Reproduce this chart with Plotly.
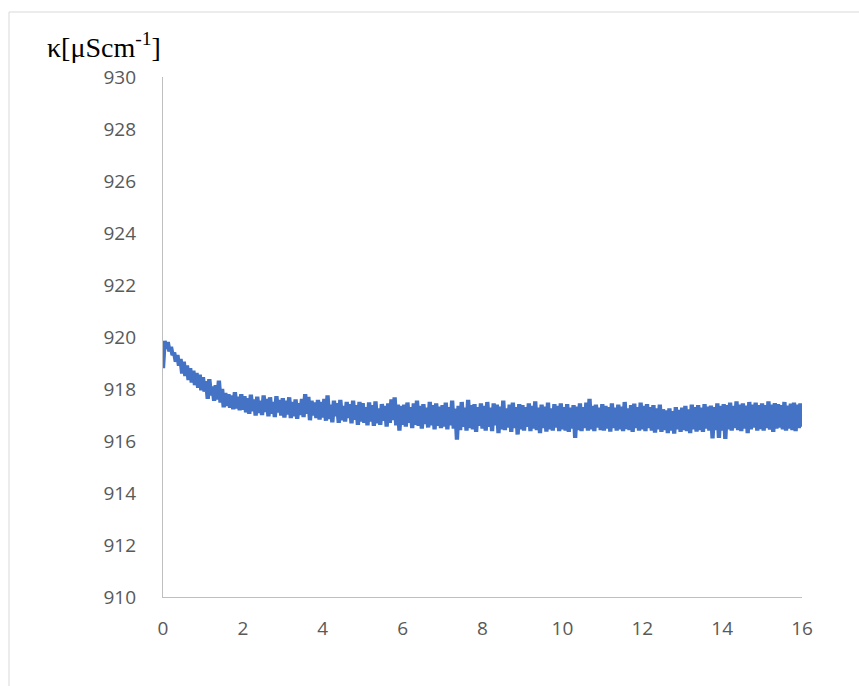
import numpy as np
import plotly.graph_objects as go

# Conductivity readings, one every 0.04 min (one row per minute)
kappa = [
    918.80, 919.85, 919.55, 919.80, 919.45, 919.62, 919.30, 919.40, 919.05, 919.30, 918.90, 919.15, 918.60,
    919.05, 918.50, 918.90, 918.35, 918.80, 918.25, 918.70, 918.15, 918.62, 918.05, 918.55, 917.95,
    918.45, 917.90, 918.30, 917.62, 918.38, 917.75, 918.10, 917.55, 918.15, 917.60, 918.32, 917.48, 918.00,
    917.30, 917.85, 917.35, 917.80, 917.28, 917.75, 917.22, 917.88, 917.25, 917.70, 917.18, 917.80,
    917.20, 917.72, 917.10, 917.65, 917.05, 917.78, 917.15, 917.60, 916.98, 917.70, 917.08, 917.55, 917.00,
    917.75, 917.12, 917.62, 916.95, 917.68, 917.05, 917.50, 916.92, 917.72, 917.10, 917.58, 916.98,
    917.65, 916.90, 917.55, 917.02, 917.68, 916.88, 917.50, 916.95, 917.60, 916.85, 917.45, 917.00, 917.62,
    916.92, 917.80, 917.05, 917.70, 916.80, 917.55, 916.98, 917.48, 916.88, 917.58, 916.82, 917.50,
    916.90, 917.62, 916.78, 917.75, 916.85, 917.40, 916.72, 917.55, 916.95, 917.45, 916.70, 917.58, 916.80,
    917.35, 916.75, 917.50, 916.88, 917.42, 916.68, 917.55, 916.82, 917.38, 916.62, 917.50, 916.75,
    917.45, 916.70, 917.30, 916.60, 917.48, 916.75, 917.38, 916.58, 917.52, 916.68, 917.25, 916.62, 917.42,
    916.78, 917.35, 916.55, 917.45, 916.70, 917.60, 916.80, 917.68, 916.60, 917.40, 916.40, 917.35,
    916.62, 917.40, 916.55, 917.48, 916.70, 917.30, 916.50, 917.45, 916.62, 917.55, 916.58, 917.35, 916.48,
    917.42, 916.65, 917.28, 916.52, 917.50, 916.60, 917.38, 916.45, 917.45, 916.58, 917.32, 916.50,
    917.38, 916.55, 917.48, 916.45, 917.30, 916.60, 917.55, 916.48, 917.25, 916.05, 917.35, 916.42, 917.50,
    916.55, 917.28, 916.40, 917.58, 916.50, 917.38, 916.45, 917.42, 916.35, 917.30, 916.58, 917.45,
    916.48, 917.35, 916.40, 917.50, 916.55, 917.28, 916.38, 917.45, 916.60, 917.40, 916.30, 917.32, 916.45,
    917.55, 916.42, 917.25, 916.52, 917.40, 916.35, 917.48, 916.50, 917.30, 916.25, 917.42, 916.45,
    917.38, 916.40, 917.30, 916.55, 917.45, 916.38, 917.35, 916.48, 917.52, 916.42, 917.28, 916.30, 917.40,
    916.50, 917.32, 916.36, 917.48, 916.45, 917.25, 916.40, 917.42, 916.52, 917.35, 916.38, 917.45,
    916.45, 917.30, 916.40, 917.42, 916.35, 917.28, 916.48, 917.38, 916.12, 917.32, 916.42, 917.45, 916.38,
    917.30, 916.50, 917.48, 916.40, 917.62, 916.45, 917.35, 916.38, 917.40, 916.52, 917.28, 916.42,
    917.42, 916.40, 917.35, 916.48, 917.30, 916.36, 917.45, 916.50, 917.28, 916.40, 917.40, 916.45, 917.32,
    916.38, 917.50, 916.46, 917.25, 916.42, 917.38, 916.35, 917.44, 916.50, 917.30, 916.40, 917.48,
    916.45, 917.35, 916.38, 917.42, 916.50, 917.30, 916.40, 917.38, 916.32, 917.25, 916.45, 917.40, 916.35,
    917.22, 916.42, 917.18, 916.30, 917.25, 916.40, 917.15, 916.28, 917.30, 916.45, 917.20, 916.35,
    917.28, 916.42, 917.35, 916.38, 917.22, 916.30, 917.40, 916.45, 917.30, 916.36, 917.38, 916.42, 917.28,
    916.35, 917.42, 916.48, 917.32, 916.40, 917.36, 916.10, 917.30, 916.42, 917.45, 916.12, 917.35,
    916.40, 917.42, 916.08, 917.38, 916.45, 917.48, 916.40, 917.35, 916.50, 917.52, 916.42, 917.40, 916.38,
    917.45, 916.48, 917.36, 916.30, 917.50, 916.45, 917.40, 916.52, 917.48, 916.40, 917.38, 916.46,
    917.45, 916.40, 917.38, 916.50, 917.52, 916.44, 917.40, 916.35, 917.46, 916.48, 917.42, 916.52, 917.38,
    916.45, 917.50, 916.40, 917.36, 916.48, 917.44, 916.42, 917.48, 916.38, 917.40, 916.50, 917.45,
    916.55,
]
sample_step_min = 0.04
time_min = np.round(np.arange(len(kappa)) * sample_step_min, 2)

x_ticks = [0, 2, 4, 6, 8, 10, 12, 14, 16]
y_ticks = [910, 912, 914, 916, 918, 920, 922, 924, 926, 928, 930]
y_label = "κ[μScm<sup>-1</sup>]"

W, H = 859, 686
ML, MR, MT, MB = 163, 57, 77, 89
pw, ph = W - ML - MR, H - MT - MB

fig = go.Figure()
fig.add_trace(go.Scatter(
    x=time_min, y=kappa, mode="lines",
    line=dict(color="#4472C4", width=4.3),
    hoverinfo="skip", showlegend=False,
))

axis_font = dict(family="Open Sans, Calibri, sans-serif", size=19, color="#595959")
fig.update_xaxes(
    range=[0, 16], tickvals=x_ticks, ticktext=[str(v) for v in x_ticks],
    showgrid=False, zeroline=False, showline=True, linecolor="#BFBFBF", linewidth=1.3,
    ticks="", tickfont=axis_font, ticklabelstandoff=14,
)
fig.update_yaxes(
    range=[910, 930], tickvals=y_ticks, ticktext=[str(v) for v in y_ticks],
    showgrid=False, zeroline=False, showline=True, linecolor="#BFBFBF", linewidth=1.3,
    ticks="", tickfont=axis_font, ticklabelstandoff=22,
)

# outer chart frame
fig.add_shape(
    type="rect", xref="paper", yref="paper",
    x0=(9 - ML) / pw, x1=(W + 5 - ML) / pw,
    y0=-(H + 10 - MT - ph) / ph, y1=(ph + MT - 12) / ph,
    line=dict(color="#D9D9D9", width=1), fillcolor="rgba(0,0,0,0)", layer="below",
)

fig.add_annotation(
    text=y_label, xref="paper", yref="paper",
    x=(45 - ML) / pw, y=(ph + MT - 45) / ph,
    xanchor="left", yanchor="middle", showarrow=False,
    font=dict(family="Liberation Serif, Times New Roman, serif", size=28, color="#000000"),
)

fig.update_layout(
    width=W, height=H,
    margin=dict(l=ML, r=MR, t=MT, b=MB),
    paper_bgcolor="white", plot_bgcolor="white",
)

fig.write_html("out.html")
